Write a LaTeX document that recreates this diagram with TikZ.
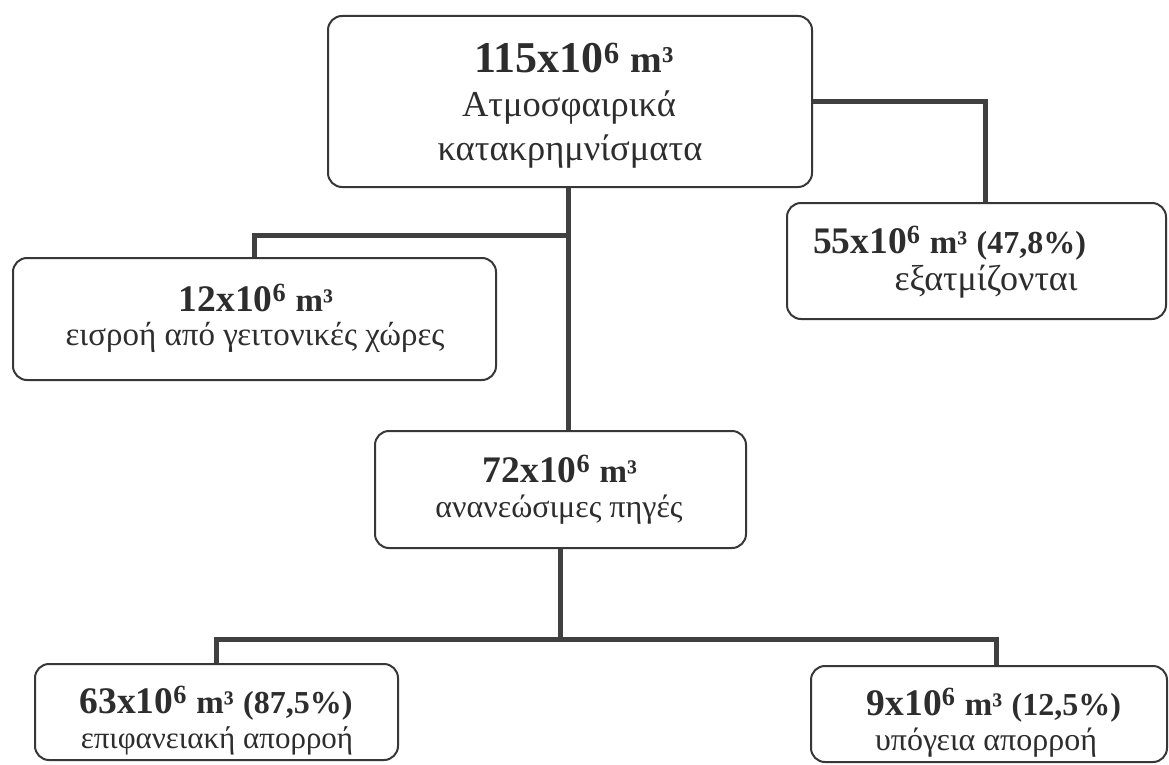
\documentclass[tikz,border=0pt]{standalone}
\usepackage{fontspec}
\setmainfont{Liberation Serif}
\definecolor{ln}{RGB}{64,64,64}
\definecolor{bd}{RGB}{55,55,55}
\definecolor{txt}{RGB}{45,45,45}
\tikzset{
  box/.style={draw=bd, line width=2pt, rounded corners=14pt, fill=white, inner sep=0pt},
  conn/.style={draw=ln, line width=5pt},
  num/.style={font=\bfseries\fontsize{37.5}{40}\selectfont, anchor=base, inner sep=0pt, text=txt},
  bignum/.style={font=\bfseries\fontsize{44}{46}\selectfont, anchor=base, inner sep=0pt, text=txt},
  gr/.style={anchor=base, inner sep=0pt, text=txt},
}
\newcommand{\pctpart}[1]{{\fontsize{32}{34}\selectfont #1}}
\newcommand{\munit}{{\fontsize{33}{34}\selectfont m³}}
\begin{document}
\begin{tikzpicture}[x=1pt, y=-1pt]
\fill[white] (0,0) rectangle (1169,765);
\useasboundingbox (0,0) rectangle (1169,765);

% boxes
\node[box, minimum width=484pt, minimum height=171pt] (T) at (570,101.5) {};
\node[box, minimum width=379pt, minimum height=116pt] (R) at (976.5,261) {};
\node[box, minimum width=483pt, minimum height=122pt] (L) at (254.5,319) {};
\node[box, minimum width=371pt, minimum height=117pt] (M) at (560.5,489.5) {};
\node[box, minimum width=363pt, minimum height=96pt] (BL) at (216.5,712) {};
\node[box, minimum width=356pt, minimum height=96pt] (BR) at (989,714) {};

% connectors
\coordinate (j1) at (568,235);
\coordinate (j2) at (560.5,639);
\draw[conn] (T.east) -| ([xshift=8.5pt]R.north);
\draw[conn] ([xshift=-2pt]T.south) -- ([xshift=-2pt]T.south |- M.north);
\draw[conn] (j1) -| (L.north);
\draw[conn] (M.south) -- (j2);
\draw[conn] (BL.north) |- (j2) -| ([xshift=7pt]BR.north);

% texts
\node[bignum] (t1) at (574,73) {115x10\textsuperscript{6} {\fontsize{38}{40}\selectfont m³}};
\node[gr, font=\fontsize{36.5}{38}\selectfont] (t2) at (569,117) {Ατμοσφαιρικά};
\node[gr, font=\fontsize{36.5}{38}\selectfont] (t3) at (570,160) {κατακρημνίσματα};

\node[num, anchor=base west] (r1) at (813,253) {55x10\textsuperscript{6} \munit\ \pctpart{(47,8\%)}};
\node[gr, font=\fontsize{36}{38}\selectfont] (r2) at (986,290) {εξατμίζονται};

\node[num] (l1) at (256,311) {12x10\textsuperscript{6} \munit};
\node[gr, font=\fontsize{33}{36}\selectfont] (l2) at (255,345) {εισροή από γειτονικές χώρες};

\node[num] (m1) at (560,482) {72x10\textsuperscript{6} \munit};
\node[gr, font=\fontsize{32}{34}\selectfont] (m2) at (559,517) {ανανεώσιμες πηγές};

\node[num] (b1) at (216,713) {63x10\textsuperscript{6} \munit\ \pctpart{(87,5\%)}};
\node[gr, font=\fontsize{31}{34}\selectfont] (b2) at (217,748) {επιφανειακή απορροή};

\node[num] (c1) at (994,715) {9x10\textsuperscript{6} \munit\ \pctpart{(12,5\%)}};
\node[gr, font=\fontsize{32}{34}\selectfont] (c2) at (986,750) {υπόγεια απορροή};
\end{tikzpicture}
\end{document}
